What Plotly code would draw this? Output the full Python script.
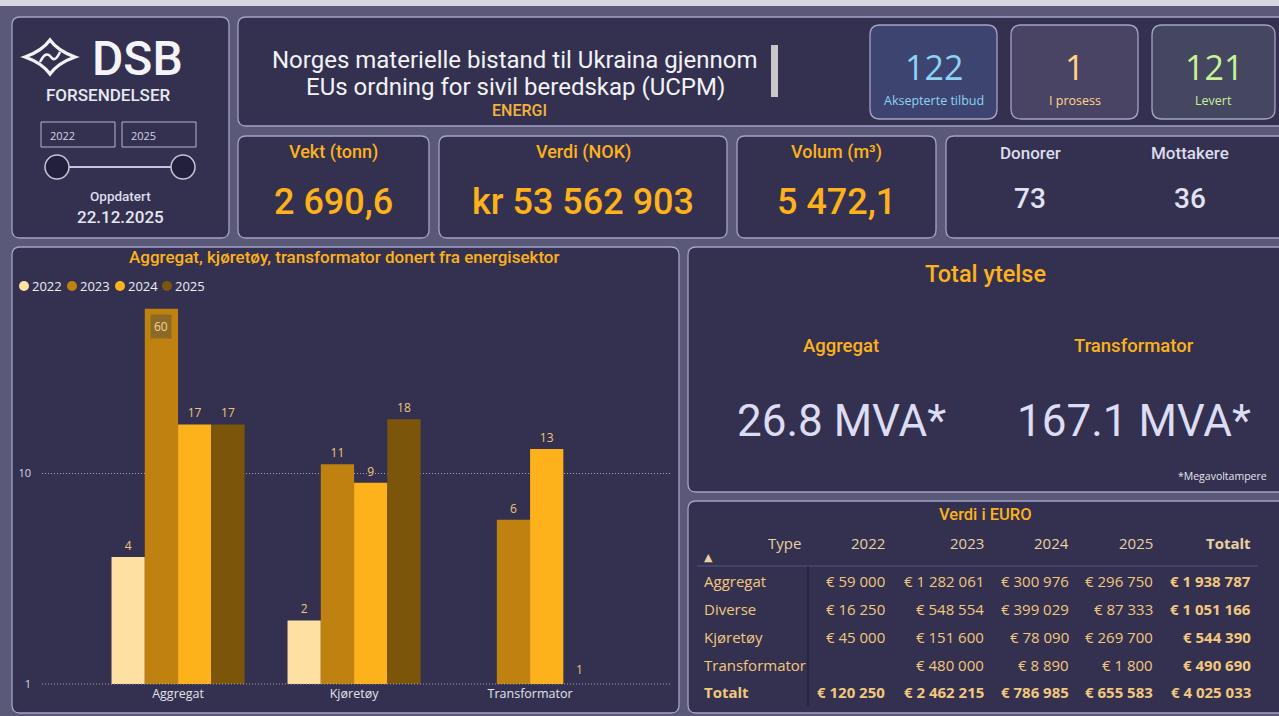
import math
import plotly.graph_objects as go

# ---------------- data ----------------
categories = ["Aggregat", "Kjøretøy", "Transformator"]
years = ["2022", "2023", "2024", "2025"]
count_2022 = [4, 2, None]
count_2023 = [60, 11, 6]
count_2024 = [17, 9, 13]
count_2025 = [17, 18, 1]
year_colors = ["#FFE0A3", "#BF8210", "#FDB11B", "#7A550A"]

table_types = ["Aggregat", "Diverse", "Kjøretøy", "Transformator"]
euro_2022 = [59000, 16250, 45000, None]
euro_2023 = [1282061, 548554, 151600, 480000]
euro_2024 = [300976, 399029, 78090, 8890]
euro_2025 = [296750, 87333, 269700, 1800]

kpi_labels = ["Aksepterte tilbud", "I prosess", "Levert"]
kpi_values = [122, 1, 121]

metric_labels = ["Vekt (tonn)", "Verdi (NOK)", "Volum (m³)"]
metric_values = ["2 690,6", "kr 53 562 903", "5 472,1"]

people_labels = ["Donorer", "Mottakere"]
people_values = [73, 36]

ytelse_labels = ["Aggregat", "Transformator"]
ytelse_values = ["26.8 MVA*", "167.1 MVA*"]

# ---------------- helpers ----------------
W, H = 1279, 716
BG = "#5B5978"
PANEL = "#33314F"
BORDER = "#A4A2C8"
ORANGE = "#FDB11B"
LIGHT = "#DCDCF2"
DIN = "Roboto"
SEG = "Open Sans"
GRID = "#A6A4C0"


def X(p):
    return p / W


def Y(p):
    return 1 - p / H


shapes = []
annotations = []


def rrect(x0, y0, x1, y1, r=8, fill=PANEL, line=BORDER, lw=1.3):
    path = (
        f"M {X(x0+r)},{Y(y0)} L {X(x1-r)},{Y(y0)} Q {X(x1)},{Y(y0)} {X(x1)},{Y(y0+r)} "
        f"L {X(x1)},{Y(y1-r)} Q {X(x1)},{Y(y1)} {X(x1-r)},{Y(y1)} "
        f"L {X(x0+r)},{Y(y1)} Q {X(x0)},{Y(y1)} {X(x0)},{Y(y1-r)} "
        f"L {X(x0)},{Y(y0+r)} Q {X(x0)},{Y(y0)} {X(x0+r)},{Y(y0)} Z"
    )
    shapes.append(dict(type="path", path=path, xref="paper", yref="paper",
                       fillcolor=fill, line=dict(color=line, width=lw), layer="below"))


def rect(x0, y0, x1, y1, fill, line=None, lw=1):
    shapes.append(dict(type="rect", xref="paper", yref="paper",
                       x0=X(x0), x1=X(x1), y0=Y(y1), y1=Y(y0),
                       fillcolor=fill, line=dict(color=line or fill, width=lw if line else 0),
                       layer="below"))


def ann(x, y, text, size, color, family=DIN, xanchor="center", weight=None):
    f = dict(size=size, color=color, family=family)
    if weight:
        f["weight"] = weight
    annotations.append(dict(x=X(x), y=Y(y), xref="paper", yref="paper", text=text,
                            showarrow=False, font=f, xanchor=xanchor, yanchor="middle"))


# ---------------- page background ----------------
rect(0, 0, W, H, BG)
rect(0, 0, W, 6, "#D6D6DE")

# ---------------- logo panel ----------------
rrect(12, 17, 229, 238)
cx, cy, hx, hy = 50, 57, 25, 17
star = (f"M {X(cx-hx)},{Y(cy)} Q {X(cx-8)},{Y(cy-6)} {X(cx)},{Y(cy-hy)} "
        f"Q {X(cx+8)},{Y(cy-6)} {X(cx+hx)},{Y(cy)} "
        f"Q {X(cx+8)},{Y(cy+6)} {X(cx)},{Y(cy+hy)} "
        f"Q {X(cx-8)},{Y(cy+6)} {X(cx-hx)},{Y(cy)} Z")
shapes.append(dict(type="path", path=star, xref="paper", yref="paper",
                   line=dict(color="#F2F2F6", width=3.2)))
wave = (f"M {X(cx-10)},{Y(cy+5)} Q {X(cx-4)},{Y(cy-7)} {X(cx+1)},{Y(cy)} "
        f"Q {X(cx+5)},{Y(cy+6)} {X(cx+10)},{Y(cy-5)}")
shapes.append(dict(type="path", path=wave, xref="paper", yref="paper",
                   line=dict(color="#F2F2F6", width=2.5)))
ann(137, 58, "DSB", 48, "#F4F4F8", weight=500)
ann(109, 95, "FORSENDELSER", 17, "#E8E8F2", weight=500)
rect(41, 122, 115, 147, "rgba(0,0,0,0)", line="#B6B4CC", lw=1)
rect(122, 122, 196, 147, "rgba(0,0,0,0)", line="#B6B4CC", lw=1)
ann(48, 135, "2022", 11, "#D4D4E2", family=SEG, xanchor="left")
ann(129, 135, "2025", 11, "#D4D4E2", family=SEG, xanchor="left")
shapes.append(dict(type="line", xref="paper", yref="paper", x0=X(57), x1=X(183),
                   y0=Y(167), y1=Y(167), line=dict(color="#C8C6DC", width=2)))
for sx in (57, 183):
    shapes.append(dict(type="circle", xref="paper", yref="paper",
                       x0=X(sx - 12), x1=X(sx + 12), y0=Y(179), y1=Y(155),
                       fillcolor="#22203A", line=dict(color="#C8C6DC", width=1.5)))
ann(120, 196, "Oppdatert", 13.5, "#DCDCEA", weight=500)
ann(120, 217, "22.12.2025", 17, "#E6E6F0", weight=500)

# ---------------- title panel ----------------
rrect(238, 17, 1290, 126)
ann(515, 60, "Norges materielle bistand til Ukraina gjennom", 24, "#F2F2F6")
ann(515, 87, "EUs ordning for sivil beredskap (UCPM)", 24, "#F2F2F6")
ann(519, 110, "ENERGI", 16, "#F2B33D", weight=500)
rect(771, 45, 778, 97, "#C8C8C8")

kpi_x = [(870, 997), (1011, 1138), (1152, 1275)]
kpi_fill = ["#3E4470", "#4A4464", "#45465F"]
kpi_color = ["#8ED2F4", "#FFD68A", "#C8F29A"]
for (a, b), fc, tc, lab, val in zip(kpi_x, kpi_fill, kpi_color, kpi_labels, kpi_values):
    rrect(a, 25, b, 119, r=10, fill=fc)
    ann((a + b) / 2, 67, str(val), 34, tc, family=SEG)
    ann((a + b) / 2, 100, lab, 12.5, tc, family=SEG)

# ---------------- metric cards ----------------
metric_x = [(238, 429), (439, 727), (737, 936)]
for (a, b), lab, val in zip(metric_x, metric_labels, metric_values):
    rrect(a, 136, b, 238)
    ann((a + b) / 2, 152, lab, 18, ORANGE, weight=500)
    ann((a + b) / 2, 202, val, 36, ORANGE, weight=500)

rrect(946, 136, 1290, 238)
for cxp, lab, val in zip([1030, 1190], people_labels, people_values):
    ann(cxp, 153, lab, 17, "#DCDCEE", weight=500)
    ann(cxp, 198, str(val), 28, "#E2E2F2", weight=500)

# ---------------- chart panel ----------------
rrect(12, 247, 679, 713)
ann(345, 257, "Aggregat, kjøretøy, transformator donert fra energisektor", 17, ORANGE, weight=500)
leg_x = [24, 72, 120, 167]
for lx, yr, col in zip(leg_x, years, year_colors):
    shapes.append(dict(type="circle", xref="paper", yref="paper",
                       x0=X(lx - 5), x1=X(lx + 5), y0=Y(291), y1=Y(281),
                       fillcolor=col, line=dict(width=0)))
    ann(lx + 6, 286, yr, 13, "#ECECF4", family=SEG, xanchor="left")

# ---------------- total ytelse panel ----------------
rrect(688, 247, 1290, 492)
ann(985, 274, "Total ytelse", 23.5, ORANGE, weight=500)
for cxp, lab, val in zip([841, 1134], ytelse_labels, ytelse_values):
    ann(cxp, 346, lab, 18.5, ORANGE, weight=500)
    ann(cxp, 421, val, 44, LIGHT)
ann(1269, 476, "*Megavoltampere", 10.5, "#E4E4EE", family=SEG, xanchor="right")

# ---------------- table panel ----------------
rrect(688, 501, 1290, 713)
ann(985, 514, "Verdi i EURO", 16.5, ORANGE, weight=500)
HEAD = "#E9D0A0"
CELL = "#F2C77E"


def euro(v):
    return "" if v is None else "€ " + f"{v:,}".replace(",", " ")


col_right = [887, 986, 1071, 1155, 1253]
ann(803, 543, "Type", 15, HEAD, family=SEG, xanchor="right")
for xr, h in zip(col_right, years + ["<b>Totalt</b>"]):
    ann(xr, 543, h, 15, HEAD, family=SEG, xanchor="right")
ann(708, 557, "▲", 11, HEAD, family="DejaVu Sans")
shapes.append(dict(type="line", xref="paper", yref="paper", x0=X(697), x1=X(1258),
                   y0=Y(566), y1=Y(566), line=dict(color="#4A4870", width=1.5)))
shapes.append(dict(type="line", xref="paper", yref="paper", x0=X(808), x1=X(808),
                   y0=Y(566), y1=Y(706), line=dict(color="#26243E", width=1.5)))

row_y = [581, 609, 637, 665]
cols = [euro_2022, euro_2023, euro_2024, euro_2025]
for i, (t, ry) in enumerate(zip(table_types, row_y)):
    ann(702, ry, t, 15, CELL, family=SEG, xanchor="left")
    vals = [c[i] for c in cols]
    for xr, v in zip(col_right, vals):
        ann(xr, ry, euro(v), 15, CELL, family=SEG, xanchor="right")
    tot = sum(v for v in vals if v is not None)
    ann(col_right[-1], ry, "<b>" + euro(tot) + "</b>", 15, CELL, family=SEG, xanchor="right")
ann(702, 692, "<b>Totalt</b>", 15, CELL, family=SEG, xanchor="left")
col_tot = [sum(v for v in c if v is not None) for c in cols]
for xr, v in zip(col_right, col_tot + [sum(col_tot)]):
    ann(xr, 692, "<b>" + euro(v) + "</b>", 15, CELL, family=SEG, xanchor="right")

# ---------------- bar chart ----------------
x_lo, x_hi = X(42), X(670)
y_lo, y_hi = Y(684), Y(300)

fig = go.Figure()
series = [count_2022, count_2023, count_2024, count_2025]
bargap = 0.244
bw = (1 - bargap) / len(years)
top_val = max(count_2023)
LABEL = "#EFC57C"
for k, (yr, vals, col) in enumerate(zip(years, series, year_colors)):
    texts = []
    for i, v in enumerate(vals):
        if v is None or (vals is count_2023 and v == top_val) or v <= 1:
            texts.append("")
        else:
            texts.append(str(v))
        if v is not None and v <= 1:
            # value at the axis floor: label sits just above the baseline
            annotations.append(dict(
                x=i + (k - (len(years) - 1) / 2) * bw, y=math.log10(v),
                xref="x", yref="y", text=str(v), showarrow=False,
                yanchor="bottom", yshift=4,
                font=dict(color=LABEL, size=12, family=SEG)))
    fig.add_trace(go.Bar(
        x=categories, y=vals, name=yr, marker=dict(color=col, line=dict(width=0)),
        text=texts, textposition="outside", constraintext="none", cliponaxis=False,
        textfont=dict(color=LABEL, size=12, family=SEG),
        showlegend=False, hoverinfo="skip",
    ))

imax = count_2023.index(top_val)
annotations.append(dict(
    x=imax + (1 - (len(years) - 1) / 2) * bw, y=math.log10(top_val),
    xref="x", yref="y", text=str(top_val), showarrow=False,
    yanchor="top", yshift=-5, bgcolor="#8C6A26", borderpad=3,
    font=dict(color="#F2D49A", size=12, family=SEG)))

# dotted gridline at the axis floor (value 1)
shapes.append(dict(type="line", xref="paper", yref="paper", x0=x_lo, x1=x_hi,
                   y0=y_lo, y1=y_lo, line=dict(color=GRID, width=1, dash="1px,2px")))

fig.update_layout(
    width=W, height=H, autosize=False,
    margin=dict(l=0, r=0, t=0, b=0, pad=0, autoexpand=False),
    paper_bgcolor=BG, plot_bgcolor="rgba(0,0,0,0)",
    barmode="group", bargap=bargap, bargroupgap=0,
    shapes=shapes, annotations=annotations,
    xaxis=dict(domain=[x_lo, x_hi], range=[-0.773, 2.795], showgrid=False,
               zeroline=False, showline=False, ticks="", automargin=False,
               tickfont=dict(color="#E2E2EE", size=12.5, family=SEG)),
    yaxis=dict(domain=[y_lo, y_hi], type="log", range=[0, 1.82],
               tickvals=[1, 10], ticktext=["1", "10"], showgrid=True,
               gridcolor=GRID, griddash="1px,2px", gridwidth=1,
               zeroline=False, showline=False, ticks="", automargin=False,
               ticklabelstandoff=10,
               tickfont=dict(color="#D8D8E8", size=11, family=SEG)),
    showlegend=False,
)

fig.write_html("out.html")
